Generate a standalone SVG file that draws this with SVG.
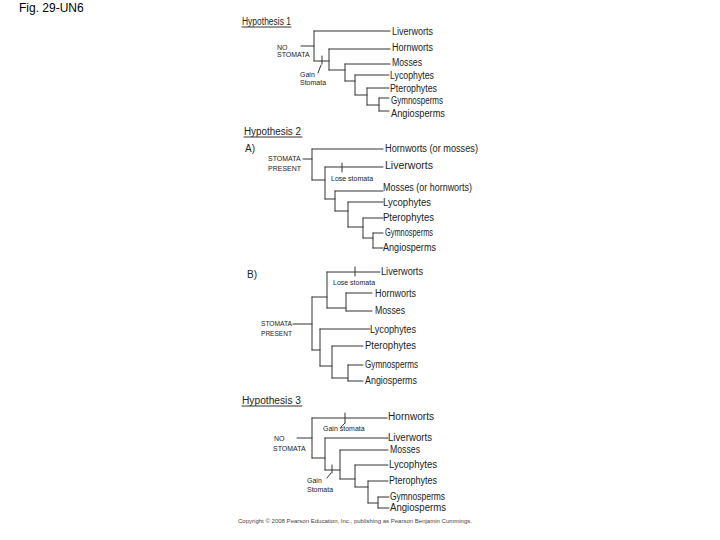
<svg xmlns="http://www.w3.org/2000/svg" width="720" height="540" viewBox="0 0 720 540">
<style>
.bg{fill:#fff}
.ln{fill:none;stroke:#333;stroke-width:1;stroke-linecap:round}
.tx{font-family:"Liberation Sans",Arial,sans-serif;font-size:10px;fill:#222}
.sm{font-family:"Liberation Sans",Arial,sans-serif;font-size:7px;fill:#222}
.ti{font-family:"Liberation Sans",Arial,sans-serif;font-size:10px;fill:#222}
.cap{font-family:"Liberation Sans",Arial,sans-serif;font-size:12px;fill:#000}
.cr{font-family:"Liberation Sans",Arial,sans-serif;font-size:5.5px;fill:#444}
</style>
<rect class="bg" x="0" y="0" width="720" height="540"/>
<text class="cap" x="19" y="12">Fig. 29-UN6</text>

<!-- Hypothesis 1 -->
<g id="hyp1">
<g id="h1-title"><text class="ti" x="242" y="25" textLength="49" lengthAdjust="spacingAndGlyphs">Hypothesis 1</text></g>
<g id="h1-root"><text class="sm" x="277" y="50">NO</text><text class="sm" x="277" y="57">STOMATA</text></g>
<g id="h1-gain"><text class="sm" x="300" y="77">Gain</text><text class="sm" x="300" y="85">Stomata</text></g>
<g id="h1-liverworts"><text class="tx" x="392" y="35" textLength="41" lengthAdjust="spacingAndGlyphs">Liverworts</text></g>
<g id="h1-hornworts"><text class="tx" x="392" y="51" textLength="41" lengthAdjust="spacingAndGlyphs">Hornworts</text></g>
<g id="h1-mosses"><text class="tx" x="392" y="66" textLength="30" lengthAdjust="spacingAndGlyphs">Mosses</text></g>
<g id="h1-lycophytes"><text class="tx" x="390" y="79" textLength="44" lengthAdjust="spacingAndGlyphs">Lycophytes</text></g>
<g id="h1-pterophytes"><text class="tx" x="390" y="92" textLength="47" lengthAdjust="spacingAndGlyphs">Pterophytes</text></g>
<g id="h1-gymnosperms"><text class="tx" x="391" y="104" textLength="52" lengthAdjust="spacingAndGlyphs">Gymnosperms</text></g>
<g id="h1-angiosperms"><text class="tx" x="391" y="117" textLength="54" lengthAdjust="spacingAndGlyphs">Angiosperms</text></g>
<g id="h1-connectors">
<path class="ln" d="M242 27H291 M314 31V61 M314 31H390 M301 46H314 M314 61H329 M329 49V70 M329 49H390 M322 56V64 M321 65L318 73 M329 70H345 M345 64V81 M345 64H390 M345 81H355 M355 75V95 M355 75H389 M355 95H367 M367 88V105 M367 88H389 M367 105H379 M379 98V111 M379 98H389 M379 111H389"/>
</g>
</g>

<!-- Hypothesis 2 A -->
<g id="hyp2a">
<g id="h2-title"><text class="ti" x="244" y="135" textLength="57" lengthAdjust="spacingAndGlyphs">Hypothesis 2</text></g>
<g id="h2a-label"><text class="ti" x="245" y="152">A)</text></g>
<g id="h2a-root"><text class="sm" x="268" y="161">STOMATA</text><text class="sm" x="268" y="171">PRESENT</text></g>
<g id="h2a-lose"><text class="sm" x="331" y="181">Lose stomata</text></g>
<g id="h2a-hornworts"><text class="tx" x="385" y="152" textLength="93" lengthAdjust="spacingAndGlyphs">Hornworts (or mosses)</text></g>
<g id="h2a-liverworts"><text class="tx" x="385" y="169" textLength="48" lengthAdjust="spacingAndGlyphs">Liverworts</text></g>
<g id="h2a-mosses"><text class="tx" x="383" y="191" textLength="89" lengthAdjust="spacingAndGlyphs">Mosses (or hornworts)</text></g>
<g id="h2a-lycophytes"><text class="tx" x="383" y="206" textLength="48" lengthAdjust="spacingAndGlyphs">Lycophytes</text></g>
<g id="h2a-pterophytes"><text class="tx" x="383" y="221" textLength="51" lengthAdjust="spacingAndGlyphs">Pterophytes</text></g>
<g id="h2a-gymnosperms"><text class="tx" x="385" y="236" textLength="48" lengthAdjust="spacingAndGlyphs">Gymnosperms</text></g>
<g id="h2a-angiosperms"><text class="tx" x="383" y="251" textLength="53" lengthAdjust="spacingAndGlyphs">Angiosperms</text></g>
<g id="h2a-connectors">
<path class="ln" d="M244 137H302 M303 159H312 M312 149V180 M312 149H383 M312 180H325 M325 167V199 M325 167H383 M342 163V172 M325 199H335 M335 191V211 M335 191H383 M335 211H348 M348 202V227 M348 202H383 M348 227H363 M363 218V238 M363 218H383 M363 238H373 M373 233V248 M373 233H383 M373 248H383"/>
</g>
</g>

<!-- Hypothesis 2 B -->
<g id="hyp2b">
<g id="h2b-label"><text class="ti" x="247" y="278">B)</text></g>
<g id="h2b-root"><text class="sm" x="261" y="326" textLength="31" lengthAdjust="spacingAndGlyphs">STOMATA</text><text class="sm" x="261" y="336" textLength="31" lengthAdjust="spacingAndGlyphs">PRESENT</text></g>
<g id="h2b-lose"><text class="sm" x="333" y="285">Lose stomata</text></g>
<g id="h2b-liverworts"><text class="tx" x="381" y="275" textLength="42" lengthAdjust="spacingAndGlyphs">Liverworts</text></g>
<g id="h2b-hornworts"><text class="tx" x="375" y="297" textLength="41" lengthAdjust="spacingAndGlyphs">Hornworts</text></g>
<g id="h2b-mosses"><text class="tx" x="375" y="314" textLength="30" lengthAdjust="spacingAndGlyphs">Mosses</text></g>
<g id="h2b-lycophytes"><text class="tx" x="370" y="333" textLength="46" lengthAdjust="spacingAndGlyphs">Lycophytes</text></g>
<g id="h2b-pterophytes"><text class="tx" x="365" y="349" textLength="51" lengthAdjust="spacingAndGlyphs">Pterophytes</text></g>
<g id="h2b-gymnosperms"><text class="tx" x="365" y="368" textLength="53" lengthAdjust="spacingAndGlyphs">Gymnosperms</text></g>
<g id="h2b-angiosperms"><text class="tx" x="365" y="384" textLength="52" lengthAdjust="spacingAndGlyphs">Angiosperms</text></g>
<g id="h2b-connectors">
<path class="ln" d="M312 297V350 M293 324H312 M312 297H327 M327 272V308 M327 272H380 M355 267V276 M327 308H346 M346 293V311 M346 293H372 M346 311H372 M312 350H320 M320 329V366 M320 329H370 M320 366H332 M332 346V378 M332 346H363 M332 378H348 M348 365V381 M348 365H363 M348 381H363"/>
</g>
</g>

<!-- Hypothesis 3 -->
<g id="hyp3">
<g id="h3-title"><text class="ti" x="242" y="404" textLength="59" lengthAdjust="spacingAndGlyphs">Hypothesis 3</text></g>
<g id="h3-root"><text class="sm" x="274" y="441">NO</text><text class="sm" x="273" y="451">STOMATA</text></g>
<g id="h3-gain1"><text class="sm" x="323" y="431">Gain stomata</text></g>
<g id="h3-gain2"><text class="sm" x="307" y="483">Gain</text><text class="sm" x="307" y="492">Stomata</text></g>
<g id="h3-hornworts"><text class="tx" x="388" y="420" textLength="46" lengthAdjust="spacingAndGlyphs">Hornworts</text></g>
<g id="h3-liverworts"><text class="tx" x="388" y="441" textLength="44" lengthAdjust="spacingAndGlyphs">Liverworts</text></g>
<g id="h3-mosses"><text class="tx" x="390" y="453" textLength="30" lengthAdjust="spacingAndGlyphs">Mosses</text></g>
<g id="h3-lycophytes"><text class="tx" x="389" y="468" textLength="48" lengthAdjust="spacingAndGlyphs">Lycophytes</text></g>
<g id="h3-pterophytes"><text class="tx" x="389" y="484" textLength="48" lengthAdjust="spacingAndGlyphs">Pterophytes</text></g>
<g id="h3-gymnosperms"><text class="tx" x="390" y="500" textLength="55" lengthAdjust="spacingAndGlyphs">Gymnosperms</text></g>
<g id="h3-angiosperms"><text class="tx" x="390" y="511" textLength="56" lengthAdjust="spacingAndGlyphs">Angiosperms</text></g>
<g id="h3-connectors">
<path class="ln" d="M242 406H302 M297 438H312 M312 418V458 M312 418H387 M345 413V423 M345 423L341 427 M312 458H325 M325 438V470 M325 438H388 M325 470H340 M332 465V473 M331 473L327 478 M340 450V479 M340 450H388 M340 479H355 M355 465V487 M355 465H388 M355 487H368 M368 481V503 M368 481H388 M368 503H378 M378 497V508 M378 497H389 M378 508H389"/>
</g>
</g>

<text class="cr" x="238" y="523" textLength="234" lengthAdjust="spacingAndGlyphs">Copyright © 2008 Pearson Education, Inc., publishing as Pearson Benjamin Cummings.</text>
</svg>
